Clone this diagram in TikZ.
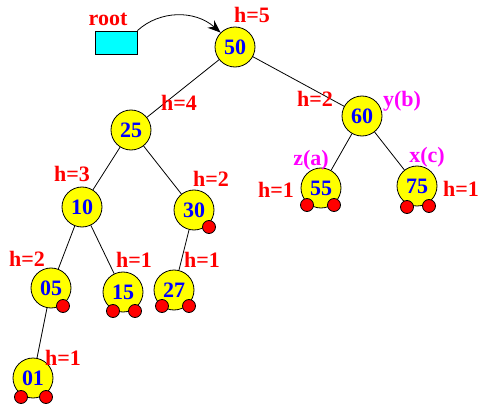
\documentclass[tikz,border=0pt]{standalone}
\usepackage{fontspec}
\setmainfont{Liberation Serif}
\usepackage{xcolor}
\usepackage{tikz}
\usetikzlibrary{arrows.meta}
\definecolor{yelc}{HTML}{FFFF00}
\definecolor{numc}{HTML}{0000FF}
\definecolor{hred}{HTML}{FF0000}
\definecolor{magc}{HTML}{FF00FF}
\definecolor{boxc}{HTML}{00FFFF}
\tikzset{
  avl/.style={circle,draw,line width=0.8pt,fill=yelc,minimum size=40pt,inner sep=0pt,
    text=numc,font=\fontsize{22}{22}\selectfont\bfseries},
  nil/.style={circle,draw,line width=0.8pt,fill=hred,minimum size=13pt,inner sep=0pt},
  hl/.style={text=hred,font=\fontsize{22}{22}\selectfont\bfseries,inner sep=0pt},
  ml/.style={text=magc,font=\fontsize{22}{22}\selectfont\bfseries,inner sep=0pt},
  edge/.style={line width=0.8pt},
  ar/.style={-{Stealth[length=13pt,width=10pt]},line width=0.8pt}
}
\newcommand{\nilat}[2]{\node[nil] (#1) at (#2) {};}
\begin{document}
\begin{tikzpicture}[x=1pt,y=-1pt]
\useasboundingbox (0,0) rectangle (488,412);
% root pointer
\node[draw,line width=0.8pt,fill=boxc,minimum width=42pt,minimum height=23pt,inner sep=0pt] (root) at (116,42.5) {};
\node[hl] (rootl) at (108,19) {root};
% tree nodes
\node[avl] (n50) at (235,47) {50};
\node[avl] (n25) at (131,130) {25};
\node[avl] (n60) at (362,116) {60};
\node[avl] (n10) at (82,207) {10};
\node[avl] (n30) at (194,210) {30};
\node[avl] (n55) at (321,188) {55};
\node[avl] (n75) at (417,186) {75};
\node[avl] (n05) at (51,288) {05};
\node[avl] (n15) at (123,292) {15};
\node[avl] (n27) at (174,290) {27};
\node[avl] (n01) at (33,378) {01};
% empty children
\nilat{d30}{209,227}
\nilat{d05}{63,306}
\nilat{d15a}{113,311}\nilat{d15b}{135,311}
\nilat{d27a}{162,306}\nilat{d27b}{189,306}
\nilat{d01a}{21,397}\nilat{d01b}{46,397}
\nilat{d55a}{307,205}\nilat{d55b}{334,205}
\nilat{d75a}{407,207}\nilat{d75b}{429,206}
% edges
\draw[edge] (n50) -- (n25);
\draw[edge] (n50) -- (n60);
\draw[edge] (n25) -- (n10);
\draw[edge] (n25) -- (n30);
\draw[edge] (n10) -- (n05);
\draw[edge] (n10) -- (n15);
\draw[edge] (n30) -- (n27);
\draw[edge] (n05) -- (n01);
\draw[edge] (n60) -- (n55);
\draw[edge] (n60) -- (n75);
\draw[ar] (root.north east) .. controls (160,10) and (195,10) .. (n50.north west);
% heights
\node[hl] (h50) at (252,15) {h=5};
\node[hl] (h25) at (179,103) {h=4};
\node[hl] (h60) at (315,99) {h=2};
\node[hl] (h10) at (72,174) {h=3};
\node[hl] (h30) at (211,179) {h=2};
\node[hl] (h55) at (276,190) {h=1};
\node[hl] (h75) at (461,189) {h=1};
\node[hl] (h05) at (27,259) {h=2};
\node[hl] (h15) at (134,260) {h=1};
\node[hl] (h27) at (202,260) {h=1};
\node[hl] (h01) at (63,358) {h=1};
% rotation names
\node[ml] (yb) at (402,101) {y(b)};
\node[ml] (za) at (311,160) {z(a)};
\node[ml] (xc) at (427,157) {x(c)};
\end{tikzpicture}
\end{document}
